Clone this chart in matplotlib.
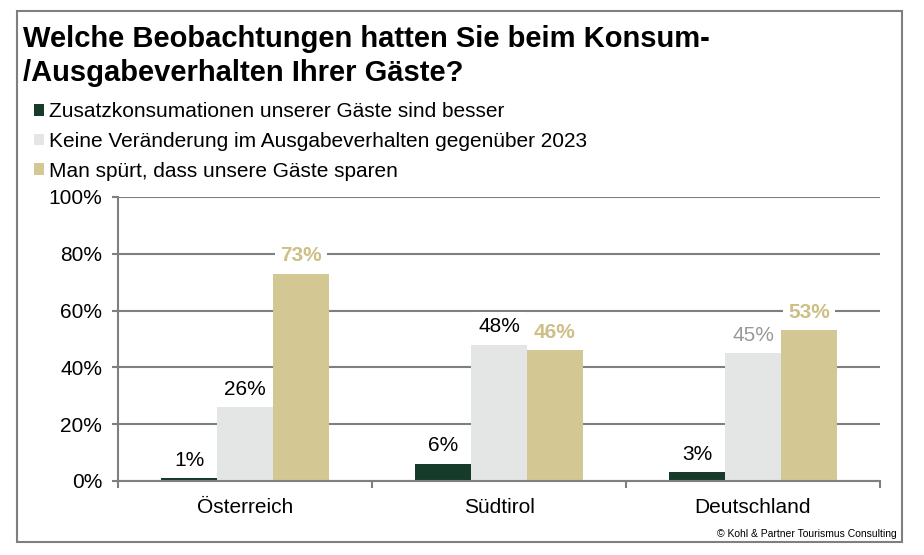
import numpy as np
import matplotlib
matplotlib.use("Agg")
import matplotlib.pyplot as plt
from matplotlib.patches import Rectangle, Patch

plt.rcParams["font.family"] = ["Liberation Sans", "DejaVu Sans"]

# Data
laender = ["Österreich", "Südtirol", "Deutschland"]
besser = [1, 6, 3]
keine_veraenderung = [26, 48, 45]
sparen = [73, 46, 53]

serien = [
    "Zusatzkonsumationen unserer Gäste sind besser",
    "Keine Veränderung im Ausgabeverhalten gegenüber 2023",
    "Man spürt, dass unsere Gäste sparen",
]
farben = ["#173b2a", "#e3e6e5", "#d3c893"]
label_farben = [
    ["black", "black", "black"],
    ["black", "black", "#999999"],
    ["#cdbf85", "#cdbf85", "#cdbf85"],
]
label_bold = [False, False, True]

fig = plt.figure(figsize=(9.24, 5.55), dpi=100)
ax = fig.add_axes([118 / 924, 1 - 481 / 555, 762 / 924, 284 / 555])

x = np.arange(len(laender))
breite = 0.22
werte = [besser, keine_veraenderung, sparen]

for i, vals in enumerate(werte):
    pos = x + (i - 1) * breite
    ax.bar(pos, vals, breite, color=farben[i], zorder=2)
    for j, v in enumerate(vals):
        ax.annotate(f"{v}%", (pos[j], v), xytext=(0, 13), textcoords="offset points",
                    ha="center", va="center", fontsize=15,
                    color=label_farben[i][j],
                    fontweight="bold" if label_bold[i] else "normal",
                    bbox=dict(boxstyle="square,pad=0.25", fc="white", ec="none"),
                    zorder=4)

ax.set_xlim(-0.5, 2.5)
ax.set_ylim(0, 100)
ax.set_yticks(np.arange(0, 101, 20))
ax.set_yticklabels([f"{t}%" for t in range(0, 101, 20)], fontsize=15)
ax.set_xticks(x)
ax.set_xticklabels(laender, fontsize=15)
ax.set_xticks([-0.5, 0.5, 1.5, 2.5], minor=True)
ax.tick_params(axis="x", which="major", length=0, pad=12)
ax.tick_params(axis="x", which="minor", length=5, width=1.5, color="#7f7f7f")
ax.tick_params(axis="y", length=4.5, width=1.5, color="#7f7f7f", pad=7)

ax.yaxis.grid(True, color="#7f7f7f", linewidth=1.5, zorder=0)
ax.set_axisbelow(True)
for s in ["top", "right"]:
    ax.spines[s].set_visible(False)
for s in ["left", "bottom"]:
    ax.spines[s].set_color("#7f7f7f")
    ax.spines[s].set_linewidth(1.5)

# Title
fig.text(23 / 924, 1 - 47 / 555, "Welche Beobachtungen hatten Sie beim Konsum-",
         fontsize=21, fontweight="bold", va="baseline")
fig.text(23 / 924, 1 - 81 / 555, "/Ausgabeverhalten Ihrer Gäste?",
         fontsize=21, fontweight="bold", va="baseline")

# Legend
handles = [Patch(facecolor=c, edgecolor="none") for c in farben]
fig.legend(handles, serien, loc="upper left", bbox_to_anchor=(34 / 924, 1 - 102 / 555),
           frameon=False, fontsize=15, handlelength=0.5, handleheight=0.5,
           handletextpad=0.2, labelspacing=0.52, borderaxespad=0, borderpad=0)

fig.text(897 / 924, 1 - 534 / 555, "© Kohl & Partner Tourismus Consulting",
         fontsize=7.5, ha="right", va="center")

fig.patches.append(Rectangle((17 / 924, 1 - 542 / 555), 885 / 924, 531 / 555,
                             transform=fig.transFigure, fill=False,
                             edgecolor="#7f7f7f", linewidth=1.5))

fig.savefig("out.png", dpi=100)
